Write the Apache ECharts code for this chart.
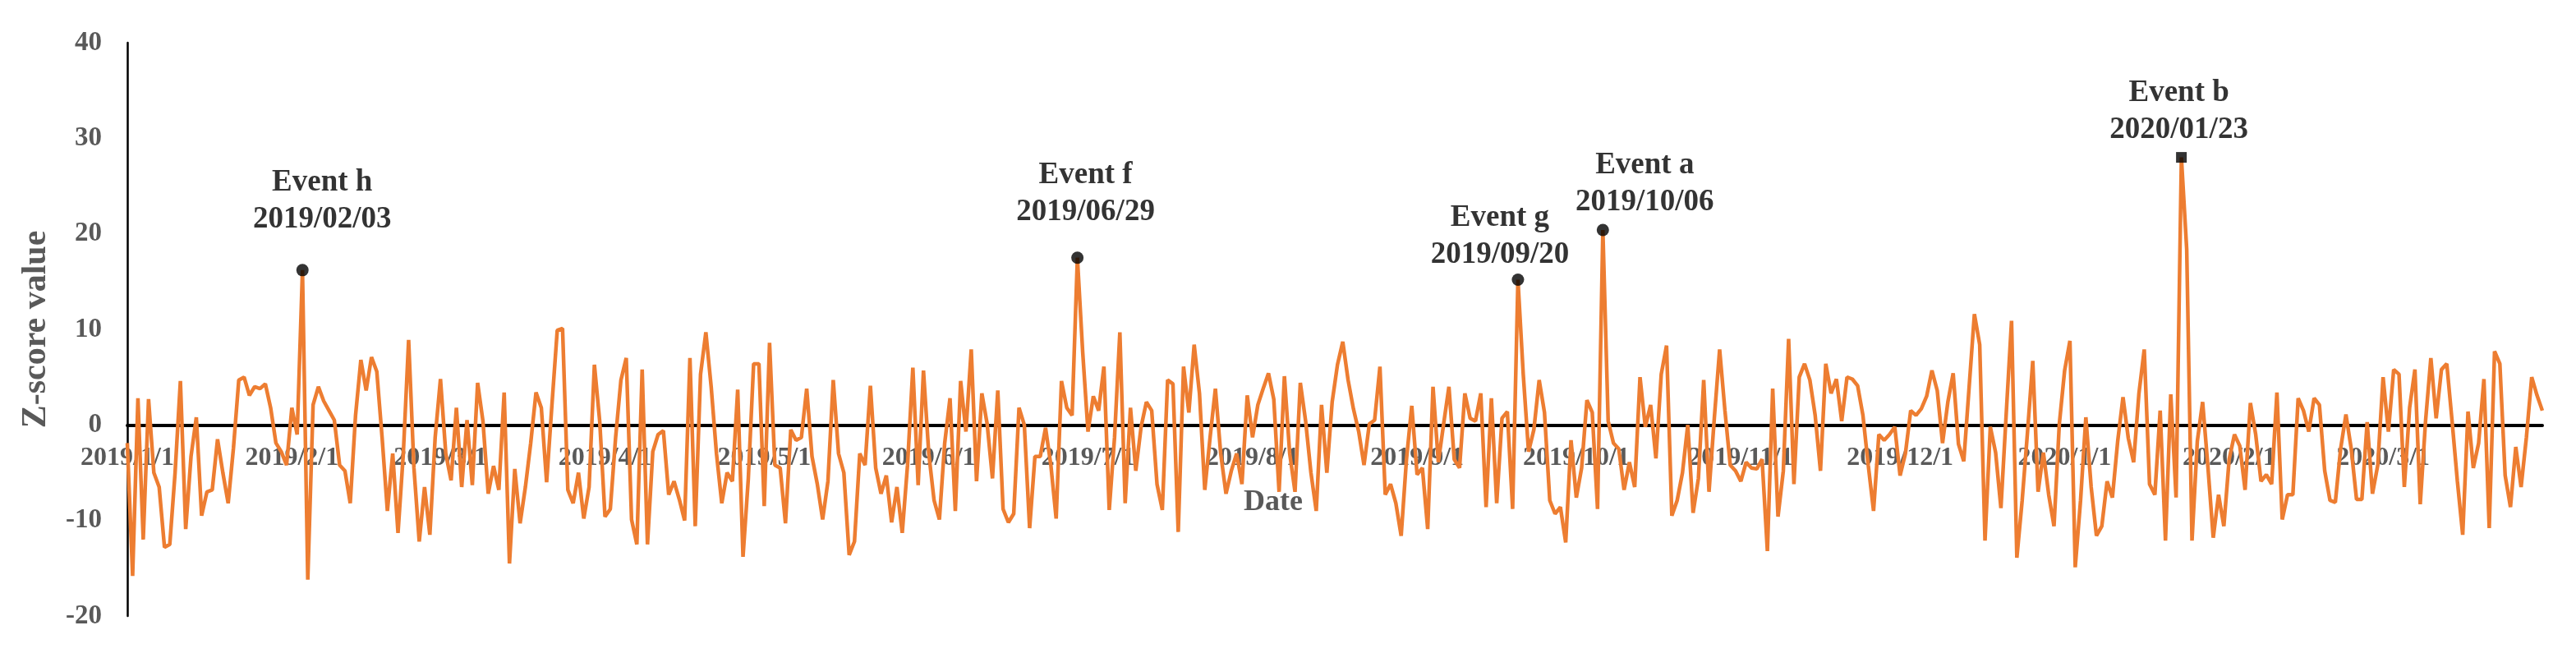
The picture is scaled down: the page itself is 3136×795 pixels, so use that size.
<!DOCTYPE html>
<html><head><meta charset="utf-8">
<script src="https://cdn.jsdelivr.net/npm/echarts@6/dist/echarts.min.js"></script>
<style>html,body{margin:0;padding:0;background:#fff}#c{width:3136px;height:795px}</style>
</head><body><div id="c"></div><script>
// Daily Z-score values, one array per month
const jan2019 = [-1.9,-15.8,2.8,-12,2.7,-5,-6.5,-12.8,-12.5,-5,4.6,-10.9,-3.3,0.8,-9.5,-7,-6.8,-1.5,-5,-8.2,-2.4,4.7,5,3.1,4,3.8,4.3,1.8,-1.9,-2.8,-4.2];
const feb2019 = [1.8,-1.0,16.2,-16.2,2.1,4.0,2.5,1.5,0.5,-4.2,-4.8,-8.2,1,6.8,3.6,7.1,5.6,-1.3,-9,-3,-11.3,-3,8.9,-4.5,-12.2,-6.5,-11.5,-1.3];
const mar2019 = [4.8,-3,-5.8,1.8,-6.5,0.5,-6.3,4.4,0.4,-7.2,-4.3,-6.8,3.4,-14.5,-4.6,-10.3,-6.5,-1.9,3.4,1.8,-6,2.1,9.9,10.1,-6.8,-8.2,-5,-9.8,-6.5,6.3,0.4];
const apr2019 = [-9.6,-8.8,-1.3,4.7,7,-9.9,-12.5,5.8,-12.5,-2.8,-1,-0.6,-7.3,-5.9,-7.8,-10,7,-10.6,5.3,9.7,4,-3,-8.2,-5,-5.9,3.7,-13.8,-5.6,6.4,6.4];
const may2019 = [-8.5,8.6,-4.2,-4.5,-10.3,-0.5,-1.6,-1.3,3.8,-3.3,-6.2,-9.9,-5.9,4.7,-3,-5,-13.6,-12.2,-3,-4.2,4.1,-4.5,-7.2,-5.3,-10.2,-6.5,-11.3,-4.2,6,-6.3,5.7];
const jun2019 = [-3,-7.9,-9.9,-1.9,2.8,-9,4.6,-0.7,7.9,-5.9,3.3,0.1,-5.6,3.6,-8.8,-10.2,-9.3,1.8,0,-10.8,-3.3,-3.3,-0.3,-4.2,-9.8,4.6,1.8,1,17.5,7.6];
const jul2019 = [-0.7,3,1.5,6.1,-8.9,-1.3,9.7,-8.2,1.8,-4.8,-0.2,2.4,1.5,-6.2,-8.9,4.7,4.3,-11.2,6.1,1.3,8.4,3.3,-6.8,-1.3,3.8,-3,-7.2,-4.8,-3,-6.2,3.1];
const aug2019 = [-1.3,2.1,3.8,5.4,2.7,-7,5.1,-3,-7,4.4,0.4,-5,-9,2.1,-5,2.4,6.3,8.7,4.7,1.7,-0.7,-4.2,0.1,0.5,6.1,-7.3,-6.2,-8.2,-11.6,-3.6,2];
const sep2019 = [-5.2,-4.5,-10.9,4,-3.9,0.1,4,-3.6,-4.5,3.3,0.7,0.4,3.3,-8.6,2.8,-8.2,0.7,1.4,-8.8,15.2,5.3,-2.8,-0.5,4.7,1.3,-7.9,-9.3,-8.6,-12.3,-1.6];
const oct2019 = [-7.6,-4.5,2.6,1.3,-8.8,20.4,0.4,-1.9,-2.5,-6.8,-3.9,-6.5,5,-0.2,2.1,-3.5,5.3,8.3,-9.5,-7.9,-5,0,-9.2,-5.6,4.7,-7,0.7,7.9,1.5,-4.2,-4.8];
const nov2019 = [-5.9,-3.9,-4.5,-4.6,-3.6,-13.2,3.8,-9.6,-4.8,9,-6.2,5,6.4,4.7,1,-4.8,6.4,3.3,4.8,0.4,5,4.8,4.1,1,-4.2,-9,-1,-1.6,-1,-0.2];
const dec2019 = [-5.3,-3,1.5,1,1.7,3,5.7,3.6,-1.9,2.4,5.4,-2,-3.8,3.9,11.6,8.4,-12.1,-0.2,-2.9,-8.7,1.2,10.9,-13.9,-7.9,-0.8,6.7,-7,-2.9,-7.3,-10.6,0.1];
const jan2020 = [5.7,8.8,-14.9,-7.9,0.8,-6.5,-11.6,-10.6,-5.9,-7.6,-1.7,2.9,-1.4,-3.9,3.3,7.9,-6.2,-7.3,1.5,-12.1,3.2,-7.6,28.0,18.4,-12.1,-1.7,2.4,-4.4,-11.8,-7.3,-10.6];
const feb2020 = [-3.6,-1,-2.2,-6.8,2.3,-1,-5.9,-5.2,-6.2,3.4,-9.9,-7.3,-7.3,2.8,1.5,-0.7,2.8,2.1,-4.8,-7.9,-8.1,-2.5,1.1,-2.5,-7.8,-7.8,0.3,-7.2,-4.2];
const mar2020 = [5,-0.7,5.8,5.3,-6.5,1.8,5.8,-8.3,0.4,7,0.7,5.8,6.4,0.4,-5.9,-11.5,1.4,-4.5,-1.9,4.8,-10.8,7.7,6.4,-5.3,-8.6,-2.3,-6.5,-1.3,5,3.1,1.5];

const months = [
  [2019,1,jan2019],[2019,2,feb2019],[2019,3,mar2019],[2019,4,apr2019],[2019,5,may2019],
  [2019,6,jun2019],[2019,7,jul2019],[2019,8,aug2019],[2019,9,sep2019],[2019,10,oct2019],
  [2019,11,nov2019],[2019,12,dec2019],[2020,1,jan2020],[2020,2,feb2020],[2020,3,mar2020]
];

// Annotated events
const eventNames = ['Event h','Event f','Event g','Event a','Event b'];
const eventDates = ['2019/02/03','2019/06/29','2019/09/20','2019/10/06','2020/01/23'];

// Label layout (styles, not data)
const eventLabelOffsets = [[24,0],[10,0],[-22,0],[51,0],[-3,0]];
const eventLabelDistances = [31,25,0,4,4];

const categories = [], values = [];
months.forEach(([y,m,arr]) => arr.forEach((v,i) => {
  categories.push(y + '/' + m + '/' + (i+1));
  values.push(v);
}));

const eventData = eventNames.map((n,k) => {
  const [y,m,d] = eventDates[k].split('/').map(Number);
  const cat = y + '/' + m + '/' + d;
  const idx = categories.indexOf(cat);
  return {
    value: [cat, values[idx]],
    symbol: k === 4 ? 'rect' : 'circle',
    symbolSize: k === 4 ? 13 : 15,
    label: {
      formatter: n + '\n' + eventDates[k],
      offset: eventLabelOffsets[k],
      distance: eventLabelDistances[k]
    }
  };
});

const FONT = "'Liberation Serif', 'Times New Roman', serif";
const GRID_TOP = 52, GRID_BOTTOM = 45, PLOT_H = 795 - GRID_TOP - GRID_BOTTOM;
const Y_MIN = -20, Y_MAX = 40;
// move the x axis up to the zero level of the value axis
const xOffset = -PLOT_H * (0 - Y_MIN) / (Y_MAX - Y_MIN);

const chart = echarts.init(document.getElementById('c'));
chart.setOption({
  animation: false,
  backgroundColor: '#ffffff',
  grid: { left: 155, right: 41, top: GRID_TOP, bottom: GRID_BOTTOM, containLabel: false, outerBoundsMode: 'none' },
  xAxis: {
    type: 'category',
    data: categories,
    boundaryGap: false,
    offset: xOffset,
    axisLine: { onZero: false, lineStyle: { color: '#000', width: 4 } },
    axisTick: { show: false },
    splitLine: { show: false },
    axisLabel: {
      interval: (idx, val) => /\/1$/.test(val),
      color: '#595959', fontFamily: FONT, fontWeight: 'bold', fontSize: 32, margin: 24
    },
    name: 'Date',
    nameLocation: 'middle',
    nameGap: 76,
    nameTextStyle: { color: '#595959', fontFamily: FONT, fontWeight: 'bold', fontSize: 36, padding: [0, 150, 0, 0] }
  },
  yAxis: {
    type: 'value',
    min: Y_MIN, max: Y_MAX, interval: 10,
    axisLine: { show: true, onZero: false, lineStyle: { color: '#000', width: 2.5 } },
    axisTick: { show: false },
    splitLine: { show: false },
    axisLabel: { color: '#595959', fontFamily: FONT, fontWeight: 'bold', fontSize: 33, margin: 31 },
    name: 'Z-score value',
    nameLocation: 'middle',
    nameRotate: 90,
    nameGap: 90,
    nameTextStyle: { color: '#595959', fontFamily: FONT, fontWeight: 'bold', fontSize: 42 }
  },
  series: [
    {
      type: 'line',
      data: values,
      symbol: 'none',
      lineStyle: { color: '#ED7D31', width: 4.5 },
      z: 2
    },
    {
      type: 'scatter',
      data: eventData,
      itemStyle: { color: '#000' },
      z: 5,
      label: {
        show: true, position: 'top',
        color: '#000', fontFamily: FONT, fontWeight: 'bold', fontSize: 37, lineHeight: 45, align: 'center'
      }
    }
  ]
});
</script></body></html>
